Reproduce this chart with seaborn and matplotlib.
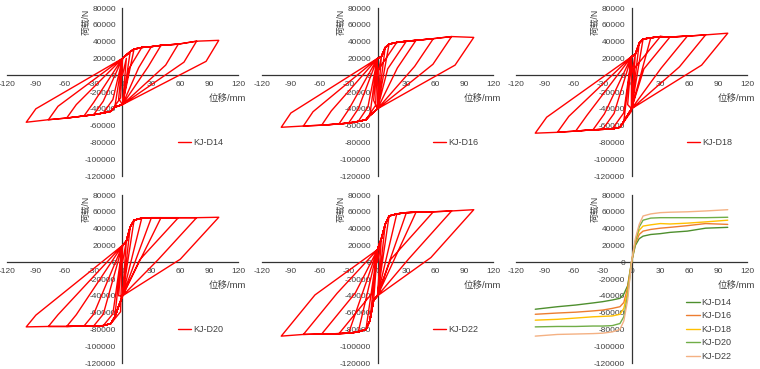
import numpy as np
import pandas as pd
import matplotlib
matplotlib.use('Agg')
import matplotlib.pyplot as plt
import seaborn as sns

sns.set_style('white')
plt.rcParams['font.family'] = ['Liberation Sans', 'Noto Sans CJK SC', 'DejaVu Sans']
plt.rcParams['axes.unicode_minus'] = False

specimens = ['KJ-D14', 'KJ-D16', 'KJ-D18', 'KJ-D20', 'KJ-D22']

# loading amplitudes (mm)
amp = [4, 8, 12, 20, 30, 40, 58, 77, 100]

# peak loads at +amp and -amp (N)
pos_d14 = [20000, 28000, 31000, 33000, 34000, 35500, 37000, 40500, 41500]
neg_d14 = [-28000, -38000, -43000, -45000, -47000, -48500, -51000, -53000, -56000]
pos_d16 = [22000, 33000, 37000, 39000, 40500, 41500, 43500, 46000, 45000]
neg_d16 = [-30000, -48000, -53000, -55000, -57000, -58000, -59500, -60500, -62000]
pos_d18 = [25000, 38000, 43000, 44500, 46000, 45500, 46500, 48000, 50000]
neg_d18 = [-35000, -55000, -62000, -64000, -64500, -65000, -66500, -68000, -69000]
pos_d20 = [25000, 42000, 50000, 52500, 53000, 53000, 53000, 53000, 53500]
neg_d20 = [-40000, -65000, -73000, -75500, -76000, -76000, -76500, -76500, -77000]
pos_d22 = [28000, 45000, 55000, 57500, 59000, 59500, 60000, 61000, 62500]
neg_d22 = [-45000, -70000, -80000, -83000, -84500, -85000, -85500, -86000, -88000]

pos_peaks = [pos_d14, pos_d16, pos_d18, pos_d20, pos_d22]
neg_peaks = [neg_d14, neg_d16, neg_d18, neg_d20, neg_d22]

# pinching points at zero displacement (N)
c_up = [20000, 20000, 22000, 20000, 15000]
c_dn = [-35000, -40000, -40000, -40000, -40000]
# steep unloading branch: load drop (N) and stiffness (N/mm)
drop_pos = [25000, 33000, 38000, 50000, 57000]
k_pos = [1900, 1700, 1400, 1250, 1280]
drop_neg = [16000, 17000, 19000, 14000, 49000]
k_neg = [1600, 1700, 1600, 1400, 1400]

skel_colors = ['#4E8F2E', '#ED7D31', '#FFC000', '#70AD47', '#F4B183']


def hysteresis(k):
    pos, neg = pos_peaks[k], neg_peaks[k]
    xs, ys = [0], [0]
    for i, d in enumerate(amp):
        # reload along the positive envelope
        for j in range(i + 1):
            if pos[j] > c_up[k] or j == i:
                xs.append(amp[j]); ys.append(pos[j])
        # unload
        bx = d - drop_pos[k] / k_pos[k]
        if bx > 0:
            xs.append(bx); ys.append(pos[i] - drop_pos[k])
        xs.append(0); ys.append(c_dn[k])
        # load along the negative envelope
        for j in range(i + 1):
            if neg[j] < c_dn[k] or j == i:
                xs.append(-amp[j]); ys.append(neg[j])
        bx = -d + drop_neg[k] / k_neg[k]
        if bx < 0:
            xs.append(bx); ys.append(neg[i] + drop_neg[k])
        xs.append(0); ys.append(c_up[k])
    return pd.DataFrame({'disp': xs, 'load': ys})


def style_axes(ax):
    ax.set_xlim(-120, 120)
    ax.set_ylim(-120000, 80000)
    ax.set_xticks(range(-120, 121, 30))
    ax.set_yticks(range(-120000, 80001, 20000))
    for s in ['top', 'right']:
        ax.spines[s].set_visible(False)
    for s in ['left', 'bottom']:
        ax.spines[s].set_position(('data', 0))
        ax.spines[s].set_color('#333333')
        ax.spines[s].set_linewidth(0.9)
    ax.tick_params(direction='out', length=2.5, width=0.8, labelsize=6,
                   pad=2, colors='#333333', labelcolor='#404040')
    ax.set_xlabel('')
    ax.set_ylabel('')
    ax.text(-38, 64000, '荷载/N', rotation=90, ha='center', va='center',
            fontsize=6.3, color='#404040')
    ax.text(109, -28000, '位移/mm', ha='center', va='center',
            fontsize=6.8, color='#404040')


fig = plt.figure(figsize=(7.6, 3.69), dpi=100)
W, H = 760, 369
lefts = [7, 262, 516]
tops = [8, 195]
aw, ah = 231, 168

axes = []
for r in range(2):
    for c in range(3):
        ax = fig.add_axes([lefts[c] / W, (H - tops[r] - ah) / H, aw / W, ah / H])
        ax.patch.set_alpha(0)
        axes.append(ax)

for k, name in enumerate(specimens):
    ax = axes[k]
    df = hysteresis(k)
    sns.lineplot(data=df, x='disp', y='load', sort=False, estimator=None,
                 color='#FF0000', linewidth=1.0, label=name, ax=ax, zorder=3)
    style_axes(ax)
    ax.legend(loc='center left', bbox_to_anchor=(0.72, 0.2), frameon=False,
              fontsize=6.5, handlelength=1.5, handletextpad=0.2, borderpad=0,
              labelcolor='#404040')

# skeleton curves
rows = []
for k, name in enumerate(specimens):
    xs = [-a for a in amp[::-1]] + [0] + amp
    ys = neg_peaks[k][::-1] + [0] + pos_peaks[k]
    for x, y in zip(xs, ys):
        rows.append({'disp': x, 'load': y, 'specimen': name})
skel = pd.DataFrame(rows)
ax = axes[5]
sns.lineplot(data=skel, x='disp', y='load', hue='specimen', sort=False,
             estimator=None, palette=skel_colors, linewidth=1.0, ax=ax, zorder=3)
style_axes(ax)
ax.legend(loc='center left', bbox_to_anchor=(0.717, 0.2), frameon=False,
          fontsize=6.5, handlelength=1.5, handletextpad=0.2, borderpad=0,
          labelspacing=0.5, labelcolor='#404040')

fig.savefig('out.png', dpi=100)
